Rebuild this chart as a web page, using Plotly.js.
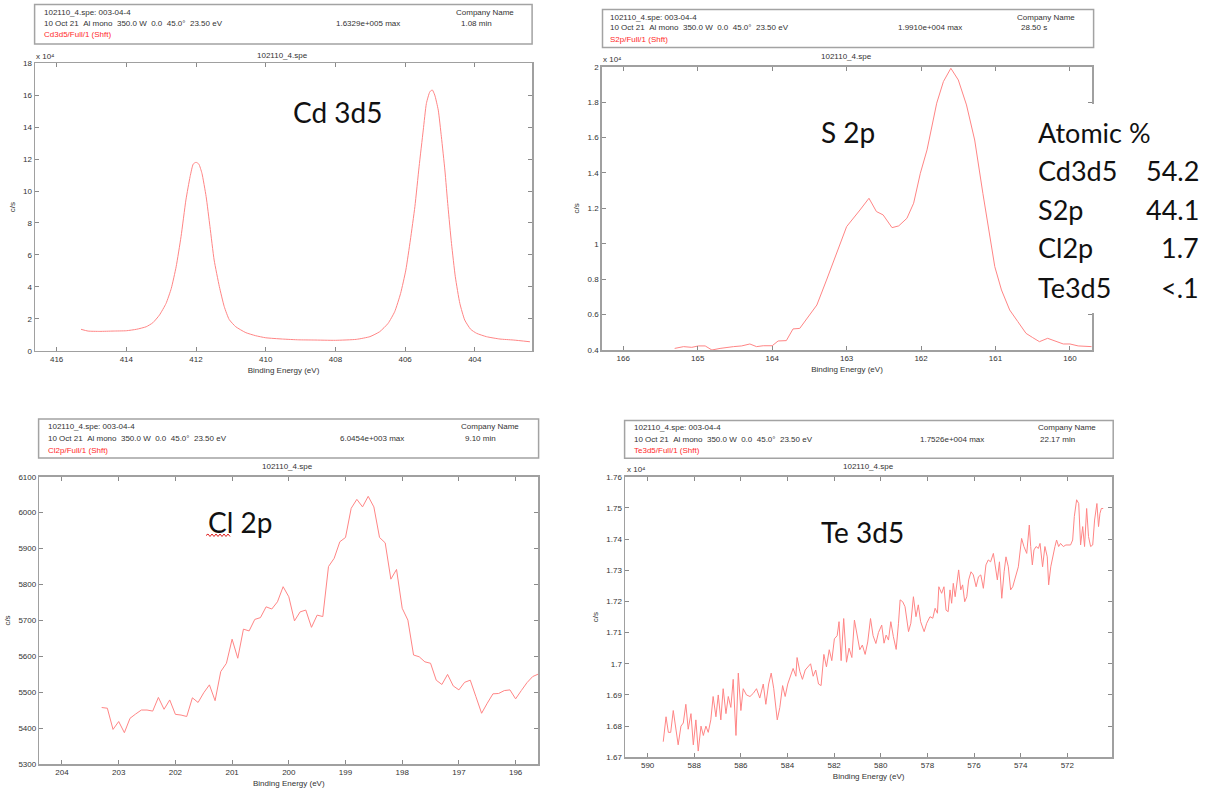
<!DOCTYPE html>
<html>
<head>
<meta charset="utf-8">
<script src="https://cdn.plot.ly/plotly-3.0.1.min.js"></script>
<style>
  html, body { margin: 0; padding: 0; background: #ffffff; }
  #chart { width: 1208px; height: 790px; }
</style>
</head>
<body>
<div id="chart"></div>
<script>
// ---------- XPS survey regions of sample 102110_4 ----------

// Cd 3d region (binding energy in eV, intensity in counts/s)
const cdEnergy = [415.30, 415.10, 414.76, 414.38, 414.00, 413.71, 413.43, 413.24, 413.05, 412.86,
  412.71, 412.57, 412.43, 412.29, 412.17, 412.08, 412.00, 411.92, 411.83, 411.71,
  411.60, 411.48, 411.33, 411.19, 411.05, 410.86, 410.57, 410.29, 410.00, 409.52,
  409.05, 408.64, 408.00, 407.40, 407.01, 406.73, 406.49, 406.30, 406.13, 405.98,
  405.85, 405.72, 405.60, 405.48, 405.39, 405.29, 405.22, 405.15, 405.05, 404.96,
  404.86, 404.77, 404.67, 404.56, 404.43, 404.29, 404.12, 403.95, 403.67, 403.28,
  402.90, 402.42];
const cdCounts = [13400, 12300, 12100, 12300, 12500, 13400, 15000, 17500, 22300, 29600,
  39000, 52600, 71400, 94400, 109000, 116900, 118000, 116900, 111100, 96500,
  77700, 56800, 40100, 27600, 19600, 15000, 11300, 9400, 8100, 7300,
  6800, 6700, 6500, 7100, 8800, 11900, 17100, 24400, 35900, 50500,
  69300, 90200, 115200, 138200, 154900, 162200, 163290, 160100, 150700, 134000,
  113200, 90200, 67200, 46300, 29600, 19200, 13400, 10900, 8800, 7300,
  6700, 5600];

// S 2p region
const sEnergy = [165.31, 165.19, 165.08, 164.99, 164.90, 164.81, 164.70, 164.61, 164.52, 164.41,
  164.30, 164.21, 164.12, 164.00, 163.92, 163.81, 163.72, 163.63, 163.52, 163.40,
  163.27, 163.14, 163.00, 162.82, 162.70, 162.60, 162.51, 162.39, 162.30, 162.19,
  162.10, 162.01, 161.92, 161.79, 161.70, 161.60, 161.50, 161.39, 161.28, 161.17,
  161.01, 160.92, 160.81, 160.70, 160.59, 160.50, 160.41, 160.30, 160.21, 160.09,
  160.00, 159.89, 159.71];
const sCounts = [4090, 4190, 4150, 4230, 4230, 4000, 4090, 4150, 4190, 4230,
  4340, 4190, 4240, 4240, 4510, 4530, 5190, 5220, 5880, 6540,
  7950, 9460, 10970, 11910, 12570, 11820, 11630, 10910, 11010, 11440,
  12290, 13980, 15300, 17940, 19160, 19910, 19250, 17840, 15860, 12850,
  8710, 7390, 6260, 5600, 4940, 4700, 4470, 4660, 4510, 4340,
  4340, 4230, 4190];

// Cl 2p region
const clEnergy = [203.3, 203.2, 203.1, 203.0, 202.9, 202.8, 202.7, 202.6, 202.5, 202.4,
  202.3, 202.2, 202.1, 202.0, 201.9, 201.8, 201.7, 201.6, 201.5, 201.4,
  201.3, 201.2, 201.1, 201.0, 200.9, 200.8, 200.7, 200.6, 200.5, 200.4,
  200.3, 200.2, 200.1, 200.0, 199.9, 199.8, 199.7, 199.6, 199.5, 199.4,
  199.3, 199.2, 199.1, 199.0, 198.9, 198.8, 198.7, 198.6, 198.5, 198.4,
  198.3, 198.2, 198.1, 198.0, 197.9, 197.8, 197.7, 197.6, 197.5, 197.4,
  197.3, 197.2, 197.1, 197.0, 196.9, 196.8, 196.7, 196.6, 196.5, 196.4,
  196.3, 196.2, 196.1, 196.0, 195.9, 195.8, 195.7, 195.6];
const clCounts = [5458, 5456, 5397, 5419, 5388, 5428, 5440, 5451, 5451, 5448,
  5486, 5453, 5479, 5439, 5437, 5433, 5485, 5472, 5499, 5521,
  5477, 5558, 5581, 5648, 5595, 5676, 5671, 5703, 5708, 5738,
  5732, 5752, 5794, 5766, 5699, 5724, 5729, 5681, 5715, 5711,
  5850, 5873, 5919, 5931, 6012, 6037, 6016, 6045.4, 6016, 5931,
  5916, 5815, 5842, 5734, 5701, 5604, 5599, 5585, 5581, 5534,
  5522, 5550, 5518, 5507, 5528, 5534, 5488, 5442, 5470, 5496,
  5497, 5505, 5507, 5482, 5505, 5527, 5544, 5551];

// Te 3d region
const teEnergy = [589.33, 589.21, 589.11, 589.01, 588.90, 588.79, 588.69, 588.57, 588.47, 588.36,
  588.26, 588.14, 588.04, 587.93, 587.83, 587.71, 587.61, 587.50, 587.40, 587.29,
  587.19, 587.07, 586.97, 586.86, 586.76, 586.64, 586.54, 586.43, 586.33, 586.21,
  586.11, 586.00, 585.90, 585.76, 585.61, 585.47, 585.33, 585.19, 585.04, 584.93,
  584.81, 584.70, 584.59, 584.44, 584.33, 584.21, 584.10, 583.99, 583.87, 583.76,
  583.64, 583.59, 583.47, 583.36, 583.24, 583.13, 583.01, 582.90, 582.79, 582.67,
  582.56, 582.44, 582.33, 582.21, 582.10, 581.99, 581.87, 581.79, 581.70, 581.59,
  581.47, 581.36, 581.24, 581.13, 581.01, 580.90, 580.79, 580.67, 580.56, 580.44,
  580.33, 580.21, 580.10, 579.96, 579.86, 579.77, 579.67, 579.57, 579.46, 579.34,
  579.24, 579.17, 579.06, 578.96, 578.81, 578.71, 578.60, 578.49, 578.39, 578.29,
  578.14, 578.03, 577.89, 577.77, 577.67, 577.57, 577.51, 577.39, 577.29, 577.20,
  577.11, 577.03, 576.96, 576.89, 576.81, 576.74, 576.66, 576.57, 576.49, 576.40,
  576.31, 576.23, 576.13, 576.03, 575.91, 575.81, 575.71, 575.60, 575.49, 575.39,
  575.29, 575.17, 575.09, 575.00, 574.91, 574.81, 574.71, 574.63, 574.53, 574.43,
  574.34, 574.23, 574.10, 573.96, 573.86, 573.74, 573.63, 573.57, 573.50, 573.43,
  573.34, 573.24, 573.17, 573.06, 572.96, 572.86, 572.80, 572.71, 572.63, 572.53,
  572.46, 572.37, 572.29, 572.17, 572.06, 571.96, 571.86, 571.77, 571.70, 571.60,
  571.51, 571.43, 571.34, 571.26, 571.17, 571.09, 571.00, 570.91, 570.83, 570.73,
  570.66, 570.60, 570.54, 570.46];
const teCounts = [16750, 16830, 16780, 16780, 16850, 16790, 16740, 16800, 16810, 16870,
  16790, 16840, 16740, 16820, 16720, 16800, 16770, 16800, 16780, 16820,
  16895, 16830, 16900, 16820, 16920, 16840, 16895, 16860, 16950, 16770,
  16970, 16850, 16920, 16900, 16895, 16905, 16920, 16890, 16935, 16870,
  16935, 16970, 16920, 16820, 16860, 16930, 16895, 16935, 16960, 16985,
  16960, 17020, 16975, 16950, 16980, 16990, 17000, 16960, 16980, 16935,
  16930, 17030, 16990, 17045, 17010, 17080, 17090, 17135, 17010, 17145,
  17005, 17050, 17020, 17140, 17090, 17045, 17060, 17030, 17070, 17145,
  17090, 17065, 17100, 17124, 17066, 17092, 17076, 17135, 17087, 17046,
  17130, 17205, 17199, 17183, 17103, 17130, 17215, 17151, 17189, 17135,
  17103, 17130, 17151, 17146, 17178, 17162, 17247, 17226, 17247, 17172,
  17167, 17237, 17194, 17258, 17215, 17263, 17301, 17237, 17253, 17199,
  17215, 17269, 17295, 17285, 17247, 17279, 17285, 17242, 17317, 17333,
  17327, 17354, 17317, 17269, 17327, 17210, 17295, 17343, 17311, 17237,
  17247, 17279, 17311, 17402, 17376, 17354, 17445, 17376, 17317, 17365,
  17376, 17370, 17386, 17311, 17376, 17343, 17253, 17311, 17343, 17376,
  17397, 17376, 17386, 17376, 17381, 17381, 17381, 17397, 17472, 17526,
  17514, 17381, 17440, 17376, 17498, 17408, 17376, 17381, 17461, 17514,
  17440, 17482, 17498, 17498];

// Tick positions and their scaled labels (x 10^4 where shown)
const cdTickVals = [0, 20000, 40000, 60000, 80000, 100000, 120000, 140000, 160000, 180000];
const cdTickText = ['0', '2', '4', '6', '8', '10', '12', '14', '16', '18'];
const sTickVals = [4000, 6000, 8000, 10000, 12000, 14000, 16000, 18000, 20000];
const sTickText = ['0.4', '0.6', '0.8', '1', '1.2', '1.4', '1.6', '1.8', '2'];
const clTickVals = [5300, 5400, 5500, 5600, 5700, 5800, 5900, 6000, 6100];
const clTickText = ['5300', '5400', '5500', '5600', '5700', '5800', '5900', '6000', '6100'];
const teTickVals = [16700, 16800, 16900, 17000, 17100, 17200, 17300, 17400, 17500, 17600];
const teTickText = ['1.67', '1.68', '1.69', '1.7', '1.71', '1.72', '1.73', '1.74', '1.75', '1.76'];

// Acquisition header text
const specFile = '102110_4.spe';
const specHeader = '102110_4.spe: 003-04-4';
const acquisition = '10 Oct 21  Al mono  350.0 W  0.0  45.0°  23.50 eV';
const regionNames = ['Cd3d5/Full/1 (Shft)', 'S2p/Full/1 (Shft)', 'Cl2p/Full/1 (Shft)', 'Te3d5/Full/1 (Shft)'];
const scanTimes = ['1.08 min', '28.50 s', '9.10 min', '22.17 min'];
const peakLabels = ['Cd 3d5', 'S 2p', 'Cl 2p', 'Te 3d5'];
const scaleLabel = 'x 10\u2074';

// Quantification table
const elements = ['Cd3d5', 'S2p', 'Cl2p', 'Te3d5'];
const atomicPct = ['54.2', '44.1', '1.7', '<.1'];

// ---------- layout helpers ----------
const W = 1208, H = 790;
const px = x => x / W;
const py = y => 1 - y / H;
const nb = s => s.replace(/ /g, '\u00a0');
const SMALL = 'Arial, "Liberation Sans", sans-serif';
const BIG = 'Lato, "Open Sans", sans-serif';
const LINE_RED = '#ff8585';

// header maximum written in the instrument's e+00X style
function expLabel(v) {
  const [m, e] = v.toExponential(4).split('e');
  const sign = e[0];
  const digits = e.slice(1).padStart(3, '0');
  return m + 'e' + sign + digits + ' max';
}

// panel geometry in page pixels
const panels = [
  { plot: [35, 63.3, 532, 350.7], range: [416.62, 402.36], y: [0, 180000], tv: cdTickVals, tt: cdTickText,
    box: [34.6, 4.6, 532.1, 43.9], tx: 41.8, lines: [12.5, 23.9, 34.6], maxX: 334, compX: 453.6, timeX: 459,
    title: [282, 55], exp: [34, 56], label: [291, 111.7], data: [cdEnergy, cdCounts], spline: true },
  { plot: [601.7, 66.7, 1092.3, 350], range: [166.29, 159.70], y: [4000, 20000], tv: sTickVals, tt: sTickText,
    box: [602.5, 9.6, 1093.6, 47.5], tx: 607.9, lines: [17.1, 27.9, 39.3], maxX: 896.4, compX: 1015, timeX: 1018.6,
    title: [846.5, 57], exp: [600.7, 60], label: [819, 131.7], data: [sEnergy, sCounts], spline: false },
  { plot: [39.3, 476.7, 538.3, 764.3], range: [204.40, 195.60], y: [5300, 6100], tv: clTickVals, tt: clTickText,
    box: [38.6, 418.9, 538.6, 457.9], tx: 46.4, lines: [426.8, 438.6, 450], maxX: 337.5, compX: 458.9, timeX: 462.5,
    title: [287.5, 466.7], exp: null, label: [205.5, 521.7], data: [clEnergy, clCounts], spline: false },
  { plot: [625, 476.7, 1112.3, 757.3], range: [590.97, 570.07], y: [16700, 17600], tv: teTickVals, tt: teTickText,
    box: [624.6, 420.4, 1113.2, 458.2], tx: 632.1, lines: [427.9, 439.3, 450], maxX: 917.9, compX: 1035.7, timeX: 1038.2,
    title: [868, 466.7], exp: [625, 469], label: [819, 531.7], data: [teEnergy, teCounts], spline: false }
];

const traces = [];
const layout = {
  width: W, height: H,
  margin: { l: 0, r: 0, t: 0, b: 0 },
  paper_bgcolor: '#ffffff', plot_bgcolor: '#ffffff',
  showlegend: false,
  font: { family: SMALL, size: 8, color: '#333333' },
  annotations: [], shapes: []
};

panels.forEach((p, i) => {
  const n = i === 0 ? '' : String(i + 1);
  const [x0, y0, x1, y1] = p.plot;
  traces.push({
    type: 'scatter', mode: 'lines',
    x: p.data[0], y: p.data[1],
    xaxis: 'x' + n, yaxis: 'y' + n,
    line: { color: LINE_RED, width: 1, shape: p.spline ? 'spline' : 'linear', smoothing: 0.5 },
    hoverinfo: 'x+y'
  });
  const common = {
    showline: true, linecolor: '#a0a0a0', linewidth: 1.5, mirror: 'ticks',
    ticks: 'inside', ticklen: 4, tickcolor: '#8a8a8a', tickwidth: 1,
    showgrid: false, zeroline: false, fixedrange: true,
    tickfont: { family: SMALL, size: 8, color: '#333333' }
  };
  layout['xaxis' + n] = Object.assign({}, common, {
    domain: [px(x0), px(x1)], anchor: 'y' + n,
    range: p.range, autorange: false, dtick: (i === 0 || i === 3) ? 2 : 1, tick0: 0,
    title: { text: 'Binding Energy (eV)', font: { family: SMALL, size: 8, color: '#333333' }, standoff: 4 }
  });
  layout['yaxis' + n] = Object.assign({}, common, {
    domain: [py(y1), py(y0)], anchor: 'x' + n,
    range: p.y, autorange: false, tickmode: 'array', tickvals: p.tv, ticktext: p.tt,
    title: { text: 'c/s', font: { family: SMALL, size: 8, color: '#333333' }, standoff: 6 }
  });

  // header frame
  layout.shapes.push({
    type: 'rect', xref: 'paper', yref: 'paper', layer: 'above',
    x0: px(p.box[0]), x1: px(p.box[2]), y0: py(p.box[3]), y1: py(p.box[1]),
    line: { color: '#a3a3a3', width: 1.5 }, fillcolor: 'rgba(0,0,0,0)'
  });
  const txt = (x, y, text, opts) => Object.assign({
    xref: 'paper', yref: 'paper', x: px(x), y: py(y), text: text, showarrow: false,
    xanchor: 'left', yanchor: 'middle', font: { family: SMALL, size: 8, color: '#333333' }
  }, opts || {});
  layout.annotations.push(
    txt(p.tx, p.lines[0], specHeader),
    txt(p.tx, p.lines[1], nb(acquisition)),
    txt(p.tx, p.lines[2], nb(regionNames[i]), { font: { family: SMALL, size: 8, color: '#ff2a2a' } }),
    txt(p.maxX, p.lines[1], nb(expLabel(Math.max(...p.data[1])))),
    txt(p.compX, p.lines[0], nb('Company Name')),
    txt(p.timeX, p.lines[1], nb(scanTimes[i])),
    txt(p.title[0], p.title[1], specFile, { xanchor: 'center' })
  );
  if (p.exp) {
    layout.annotations.push(txt(p.exp[0], p.exp[1], nb(scaleLabel)));
  }
  // region label inside the plot
  layout.annotations.push(txt(p.label[0], p.label[1], nb(peakLabels[i]),
    { font: { family: BIG, size: 28, color: '#111111' } }));
});

// white panel carrying the quantification table
layout.shapes.push({
  type: 'rect', xref: 'paper', yref: 'paper', layer: 'above',
  x0: px(1030), x1: px(1208), y0: py(313), y1: py(104),
  line: { width: 0 }, fillcolor: '#ffffff'
});
const rowY = [132.5, 170.8, 209, 247.5, 287.5];
const tableFont = { family: BIG, size: 27, color: '#111111' };
layout.annotations.push({
  xref: 'paper', yref: 'paper', x: px(1036), y: py(rowY[0]), text: nb('Atomic %'),
  showarrow: false, xanchor: 'left', yanchor: 'middle', font: tableFont
});
elements.forEach((el, k) => {
  layout.annotations.push({
    xref: 'paper', yref: 'paper', x: px(1036), y: py(rowY[k + 1]), text: el,
    showarrow: false, xanchor: 'left', yanchor: 'middle', font: tableFont
  });
  layout.annotations.push({
    xref: 'paper', yref: 'paper', x: px(1201), y: py(rowY[k + 1]), text: atomicPct[k],
    showarrow: false, xanchor: 'right', yanchor: 'middle', font: tableFont
  });
});

// spell-check squiggle under "Cl"
(function () {
  let d = 'M ' + px(206) + ',' + py(535.5);
  let up = true;
  for (let x = 208; x <= 231; x += 2) {
    d += ' L ' + px(x) + ',' + py(up ? 534 : 536.5);
    up = !up;
  }
  layout.shapes.push({ type: 'path', xref: 'paper', yref: 'paper', layer: 'above', path: d,
    line: { color: '#e02020', width: 1 } });
})();

Plotly.newPlot('chart', traces, layout, { staticPlot: true, displayModeBar: false });
</script>
</body>
</html>
